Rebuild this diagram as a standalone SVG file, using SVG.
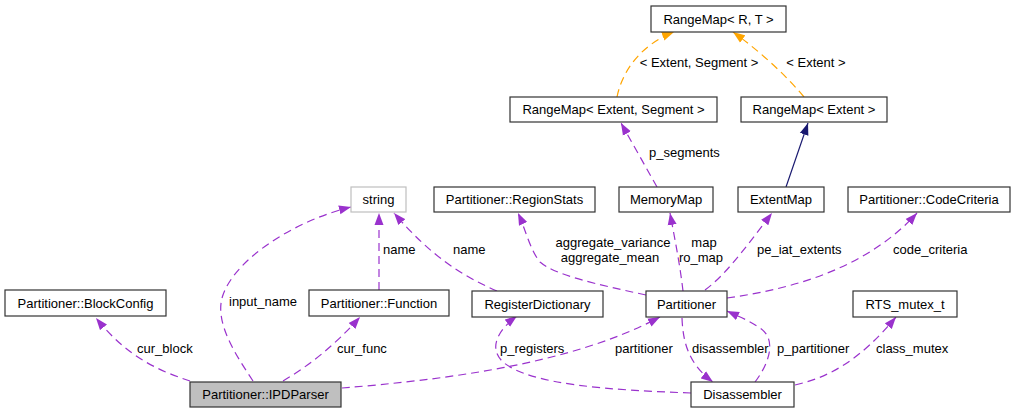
<svg xmlns="http://www.w3.org/2000/svg" width="1016" height="413" viewBox="0 0 1016 413">
<style>
.n rect{fill:#fff;stroke:#333;stroke-width:1.2}
text{font-family:"Liberation Sans",Arial,sans-serif;font-size:13px;fill:#000}
.n text{text-anchor:middle}
.e path{fill:none;stroke-width:1.2;stroke-dasharray:8,5}
.u{stroke:#9a32cd;marker-end:url(#mu)}
.t{stroke:#ffa500;marker-end:url(#mt)}
.i{stroke:#191970;marker-end:url(#mi)}
.m{text-anchor:middle}
</style>
<defs>
<marker id="mu" markerUnits="userSpaceOnUse" markerWidth="13" markerHeight="10" refX="12" refY="5" orient="auto"><path d="M0,0.5 L12,5 L0,9.5 z" fill="#9a32cd" stroke="none"/></marker>
<marker id="mt" markerUnits="userSpaceOnUse" markerWidth="13" markerHeight="10" refX="12" refY="5" orient="auto"><path d="M0,0.5 L12,5 L0,9.5 z" fill="#ffa500" stroke="none"/></marker>
<marker id="mi" markerUnits="userSpaceOnUse" markerWidth="13" markerHeight="10" refX="12" refY="5" orient="auto"><path d="M0,0.5 L12,5 L0,9.5 z" fill="#191970" stroke="none"/></marker>
</defs>
<rect width="1016" height="413" fill="#fff"/>
<g id="connectors" class="e">
<path class="u" d="M190,381 C160,371 128,358 96,318"/>
<path class="u" d="M253,381 C238,358 215,325 222,298 C232,262 290,222 351,207"/>
<path class="u" d="M283,381 C310,365 335,345 360,317"/>
<path class="u" d="M342,388 C440,380 570,365 660,317"/>
<path class="u" d="M691,393 C610,390 530,385 503,362 C488,348 498,330 517,316"/>
<path class="u" d="M497,291 C460,275 430,255 394,213"/>
<path class="u" d="M379,290 L379,213"/>
<path class="u" d="M646,295 C595,284 555,275 540,262 C530,250 525,228 518,213"/>
<path class="u" d="M683,291 C680,265 675,240 670,213"/>
<path class="u" d="M705,290 C725,275 740,255 772,213"/>
<path class="u" d="M727,298 C800,288 870,265 917,213"/>
<path class="u" d="M682,318 C683,345 690,365 713,382"/>
<path class="u" d="M755,382 C768,365 778,340 760,328 C750,321 740,317 727,311"/>
<path class="u" d="M795,385 C830,377 860,360 896,317"/>
<path class="u" d="M657,187 L621,123"/>
<path class="i" style="stroke-dasharray:none" d="M786,187 L808,123"/>
<path class="t" d="M617,97 C622,72 640,45 674,32"/>
<path class="t" d="M804,97 C790,80 765,55 733,32"/>
<text class="m" x="699" y="67">&lt; Extent, Segment &gt;</text>
<text class="m" x="816" y="67">&lt; Extent &gt;</text>
<text x="649" y="157">p_segments</text>
<text x="383" y="254">name</text>
<text x="453" y="254">name</text>
<text class="m" x="613" y="247">aggregate_variance</text>
<text class="m" x="610" y="262">aggregate_mean</text>
<text class="m" x="704" y="247">map</text>
<text class="m" x="701" y="262">ro_map</text>
<text x="757" y="254">pe_iat_extents</text>
<text x="893" y="254">code_criteria</text>
<text x="229" y="306">input_name</text>
<text x="137" y="353">cur_block</text>
<text x="337" y="353">cur_func</text>
<text x="500" y="353">p_registers</text>
<text x="615" y="353">partitioner</text>
<text x="692" y="353">disassembler</text>
<text x="777" y="353">p_partitioner</text>
<text x="876" y="353">class_mutex</text>
</g>
<g id="RangeMap_RT" class="n"><rect x="651" y="6" width="135" height="26"/><text x="718.5" y="23.5">RangeMap&lt; R, T &gt;</text></g>
<g id="RangeMap_ES" class="n"><rect x="510" y="97" width="207" height="25"/><text x="613.5" y="114">RangeMap&lt; Extent, Segment &gt;</text></g>
<g id="RangeMap_E" class="n"><rect x="741" y="97" width="146" height="25"/><text x="814" y="114">RangeMap&lt; Extent &gt;</text></g>
<g id="string" class="n"><rect x="351" y="187" width="55" height="25" style="stroke:#bfbfbf"/><text x="378.5" y="204">string</text></g>
<g id="RegionStats" class="n"><rect x="434" y="187" width="161" height="25"/><text x="514.5" y="204">Partitioner::RegionStats</text></g>
<g id="MemoryMap" class="n"><rect x="619" y="187" width="94" height="25"/><text x="666" y="204">MemoryMap</text></g>
<g id="ExtentMap" class="n"><rect x="738" y="187" width="86" height="25"/><text x="781" y="204">ExtentMap</text></g>
<g id="CodeCriteria" class="n"><rect x="848" y="187" width="162" height="25"/><text x="929" y="204">Partitioner::CodeCriteria</text></g>
<g id="BlockConfig" class="n"><rect x="5" y="290" width="161" height="26"/><text x="85.5" y="307.5">Partitioner::BlockConfig</text></g>
<g id="Function" class="n"><rect x="309" y="290" width="140" height="26"/><text x="379" y="307.5">Partitioner::Function</text></g>
<g id="RegisterDictionary" class="n"><rect x="472" y="291" width="131" height="26"/><text x="537.5" y="308.5">RegisterDictionary</text></g>
<g id="Partitioner" class="n"><rect x="646" y="291" width="81" height="26"/><text x="686.5" y="308.5">Partitioner</text></g>
<g id="RTS_mutex_t" class="n"><rect x="853" y="291" width="104" height="26"/><text x="905" y="308.5">RTS_mutex_t</text></g>
<g id="IPDParser" class="n"><rect x="190" y="382" width="151" height="25" style="fill:#bfbfbf"/><text x="265.5" y="399">Partitioner::IPDParser</text></g>
<g id="Disassembler" class="n"><rect x="691" y="382" width="103" height="25"/><text x="742.5" y="399">Disassembler</text></g>
</svg>
